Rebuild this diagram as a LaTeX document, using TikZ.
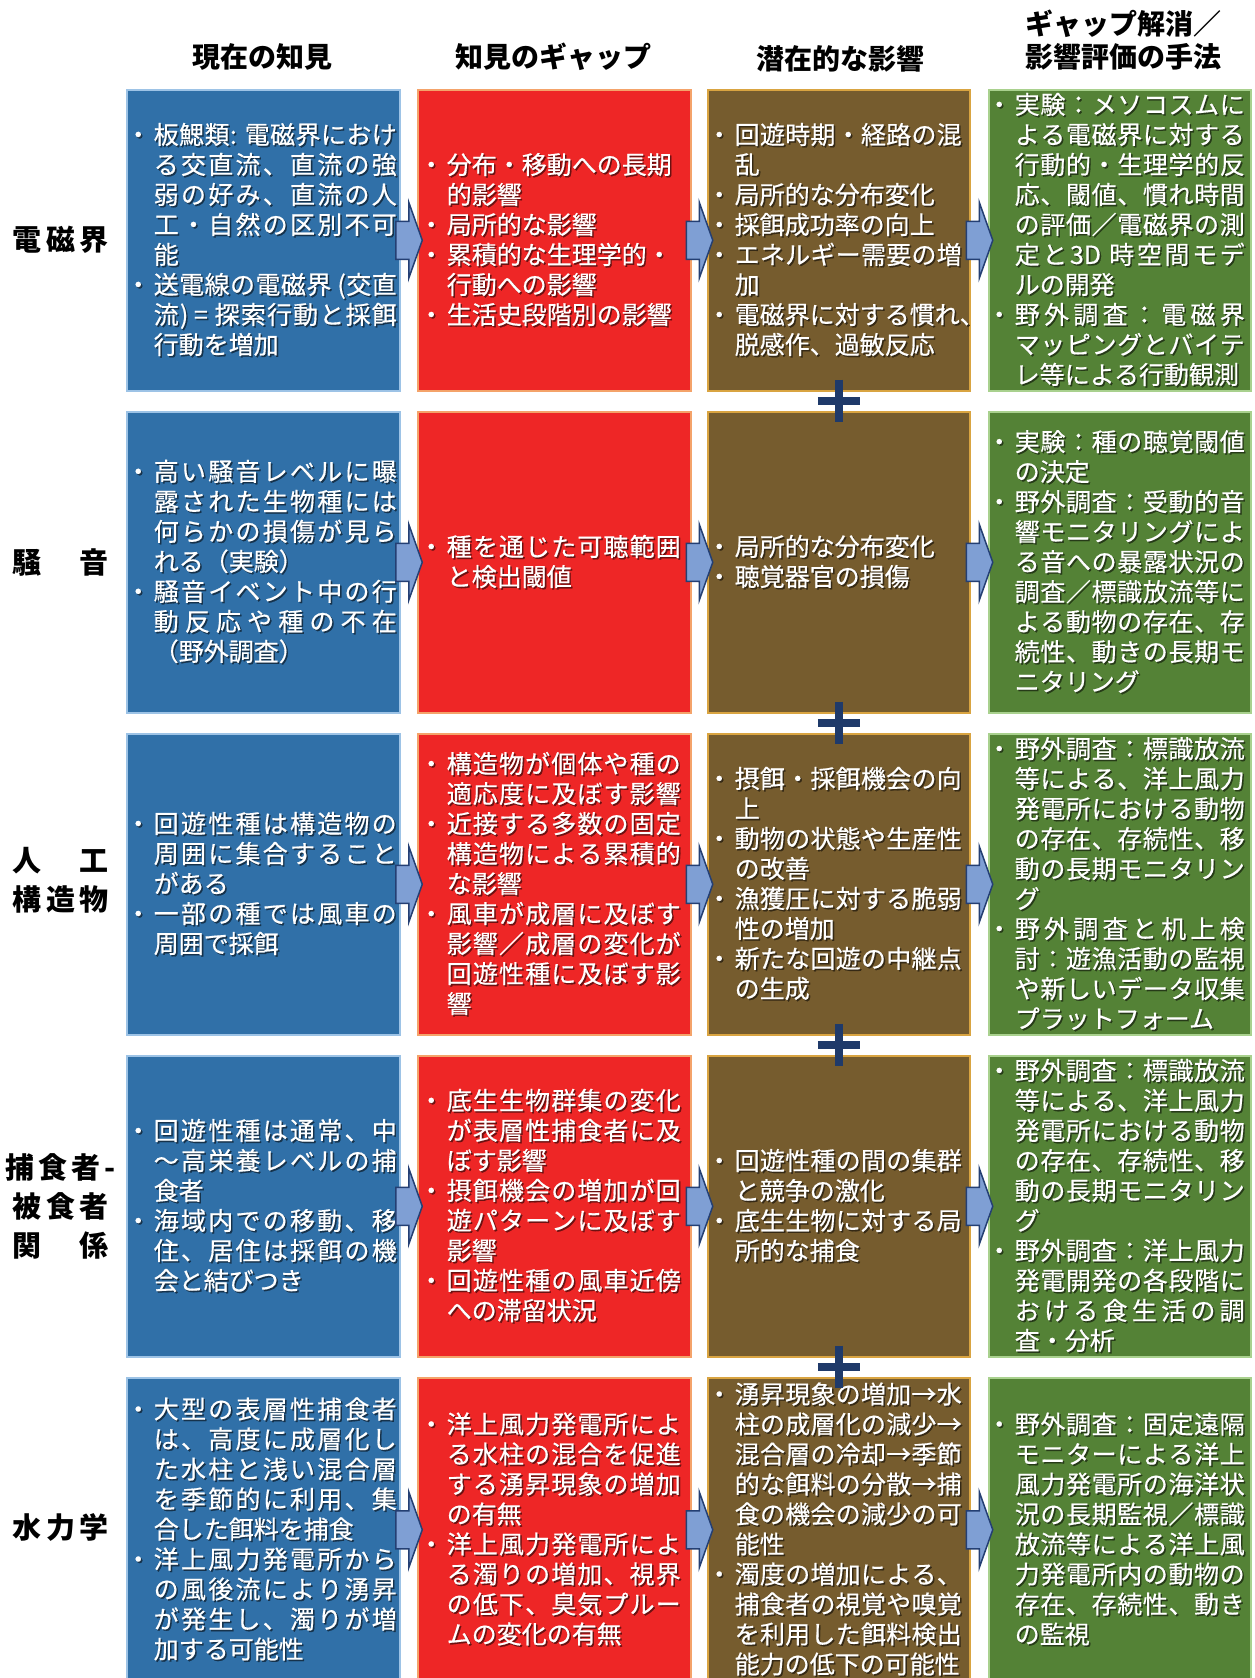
\documentclass[tikz,border=0pt]{standalone}
\usepackage{fontspec}
\setmainfont{Noto Sans CJK JP}
\newfontfamily\boxfont[FakeBold=0.5]{Noto Sans CJK JP}
\usetikzlibrary{calc}
\definecolor{cblue}{HTML}{3070A8}
\definecolor{cblueb}{HTML}{9DC3E6}
\definecolor{cred}{HTML}{EE2626}
\definecolor{credb}{HTML}{F4A36A}
\definecolor{cbrown}{HTML}{765C2E}
\definecolor{cbrownb}{HTML}{D9A441}
\definecolor{cgreen}{HTML}{548236}
\definecolor{cgreenb}{HTML}{A9D18E}
\definecolor{carrow}{HTML}{7F9FD4}
\definecolor{carrowb}{HTML}{243F73}
\definecolor{cnavy}{HTML}{1F3A6A}
\newdimen\lw \newdimen\lp \newdimen\bw \newdimen\shoff \shoff=1.5pt
\def\sprA#1{#1\sprB}
\def\sprB#1{\ifx#1\relax\else\hfil#1\expandafter\sprB\fi}
\def\bul{\llap{・\kern3pt}}
\newcommand\TX[1]{\hbox to\bw{\vbox{\lineskiplimit=-20pt #1}\hss}}
\newcommand\JL[1]{\moveright\lp\hbox to\lw{\rlap{\kern\shoff\lower\shoff\hbox to\lw{\color{shd}\sprA#1\relax}}\sprA#1\relax}}
\newcommand\BJ[1]{\moveright\lp\hbox to\lw{\rlap{\kern\shoff\lower\shoff\hbox to\lw{\color{shd}\bul\sprA#1\relax}}\bul\sprA#1\relax}}
\newcommand\NL[1]{\moveright\lp\hbox{\rlap{\kern\shoff\lower\shoff\hbox{\color{shd}#1}}#1}}
\newcommand\BN[1]{\moveright\lp\hbox{\rlap{\kern\shoff\lower\shoff\hbox{\color{shd}\bul#1}}\bul#1}}
\newcommand\LB[2]{\hbox to120pt{\hss\hbox to#1{\sprA#2\relax}\hss}}
\newcommand\LV[1]{\vbox{\lineskiplimit=-20pt #1}}
\tikzset{
  box/.style={draw, line width=1.5pt, inner sep=0pt, minimum height=301pt, text=white,
    font=\boxfont\fontsize{25}{30}\selectfont, anchor=north west},
  knbox/.style={box, fill=cblue, draw=cblueb, minimum width=273pt,
    execute at begin node={\bw=273pt\lw=243pt\lp=27pt\colorlet{shd}{cblue!45!black}}},
  gpbox/.style={box, fill=cred, draw=credb, minimum width=273pt,
    execute at begin node={\bw=273pt\lw=234pt\lp=29pt\colorlet{shd}{cred!45!black}}},
  imbox/.style={box, fill=cbrown, draw=cbrownb, minimum width=262pt,
    execute at begin node={\bw=262pt\lw=227pt\lp=27pt\colorlet{shd}{cbrown!45!black}}},
  mebox/.style={box, fill=cgreen, draw=cgreenb, minimum width=262pt,
    execute at begin node={\bw=262pt\lw=230pt\lp=26pt\colorlet{shd}{cgreen!45!black}}},
  hdr/.style={font=\bfseries\fontsize{28}{33}\selectfont, align=center, inner sep=0pt, text=black},
  lab/.style={font=\bfseries\fontsize{29}{39}\selectfont, inner sep=0pt, text=black},
  arrowsty/.style={fill=carrow, draw=carrowb, line width=1.5pt, line join=miter},
  barrow/.pic={\draw[arrowsty] (-13,-19) -- (0,-19) -- (0,-38) -- (13.5,0) -- (0,38) -- (0,19) -- (-13,19) -- cycle;},
  plusbar/.style={draw=cnavy, line width=8pt}
}
\begin{document}
\begin{tikzpicture}[x=1pt,y=-1pt]
\useasboundingbox[fill=white] (0,0) rectangle (1255,1678);
% headers
\node[hdr] (h1) at (262,57) {現在の知見};
\node[hdr] (h2) at (553,57) {知見のギャップ};
\node[hdr] (h3) at (840,59) {潜在的な影響};
\node[hdr] (h4) at (1123,40) {ギャップ解消／\\影響評価の手法};
% row labels
\node[lab] (l1) at (61,239.5) {\LV{\LB{96pt}{電磁界}}};
\node[lab] (l2) at (61,563) {\LV{\LB{96pt}{騒音}}};
\node[lab] (l3) at (61,880) {\LV{\LB{96pt}{人工}\LB{96pt}{構造物}}};
\node[lab] (l4) at (61,1206) {\LV{\LB{110pt}{捕食者-}\LB{96pt}{被食者}\LB{96pt}{関係}}};
\node[lab] (l5) at (61,1527.5) {\LV{\LB{96pt}{水力学}}};
% row 1
\node[knbox] (kn1) at (126,89) {\TX{\BJ{板鰓類{: }電磁界におけ}\JL{る交直流、直流の強}\JL{弱の好み、直流の人}\JL{工・自然の区別不可}\NL{能}\BJ{送電線の電磁界{ (}交直}\JL{流{) = }探索行動と採餌}\NL{行動を増加}}};
\node[gpbox] (gp1) at (417,89) {\lw=225pt\TX{\BJ{分布・移動への長期}\NL{的影響}\BN{局所的な影響}\BJ{累積的な生理学的・}\NL{行動への影響}\BN{生活史段階別の影響}}};
\node[imbox] (im1) at (707,89) {\TX{\BJ{回遊時期・経路の混}\NL{乱}\BN{局所的な分布変化}\BN{採餌成功率の向上}\BJ{エネルギー需要の増}\NL{加}\BJ{電磁界に対する慣れ、}\NL{脱感作、過敏反応}}};
\node[mebox] (me1) at (988,89) {\TX{\BJ{実験：メソコスムに}\JL{よる電磁界に対する}\JL{行動的・生理学的反}\JL{応、閾値、慣れ時間}\JL{の評価／電磁界の測}\JL{定と{3D }時空間モデ}\NL{ルの開発}\BJ{野外調査：電磁界}\JL{マッピングとバイテ}\NL{レ等による行動観測}}};
% row 2
\node[knbox] (kn2) at (126,411) {\TX{\BJ{高い騒音レベルに曝}\JL{露された生物種には}\JL{何らかの損傷が見ら}\NL{れる（実験）}\BJ{騒音イベント中の行}\JL{動反応や種の不在}\NL{（野外調査）}}};
\node[gpbox] (gp2) at (417,411) {\TX{\BJ{種を通じた可聴範囲}\NL{と検出閾値}}};
\node[imbox] (im2) at (707,411) {\TX{\BN{局所的な分布変化}\BN{聴覚器官の損傷}}};
\node[mebox] (me2) at (988,411) {\TX{\BJ{実験：種の聴覚閾値}\NL{の決定}\BJ{野外調査：受動的音}\JL{響モニタリングによ}\JL{る音への暴露状況の}\JL{調査／標識放流等に}\JL{よる動物の存在、存}\JL{続性、動きの長期モ}\NL{ニタリング}}};
% row 3
\node[knbox] (kn3) at (126,733) {\TX{\BJ{回遊性種は構造物の}\JL{周囲に集合すること}\NL{がある}\BJ{一部の種では風車の}\NL{周囲で採餌}}};
\node[gpbox] (gp3) at (417,733) {\TX{\BJ{構造物が個体や種の}\JL{適応度に及ぼす影響}\BJ{近接する多数の固定}\JL{構造物による累積的}\NL{な影響}\BJ{風車が成層に及ぼす}\JL{影響／成層の変化が}\JL{回遊性種に及ぼす影}\NL{響}}};
\node[imbox] (im3) at (707,733) {\TX{\BJ{摂餌・採餌機会の向}\NL{上}\BJ{動物の状態や生産性}\NL{の改善}\BJ{漁獲圧に対する脆弱}\NL{性の増加}\BJ{新たな回遊の中継点}\NL{の生成}}};
\node[mebox] (me3) at (988,733) {\TX{\BJ{野外調査：標識放流}\JL{等による、洋上風力}\JL{発電所における動物}\JL{の存在、存続性、移}\JL{動の長期モニタリン}\NL{グ}\BJ{野外調査と机上検}\JL{討：遊漁活動の監視}\JL{や新しいデータ収集}\NL{プラットフォーム}}};
% row 4
\node[knbox] (kn4) at (126,1055) {\TX{\BJ{回遊性種は通常、中}\JL{～高栄養レベルの捕}\NL{食者}\BJ{海域内での移動、移}\JL{住、居住は採餌の機}\NL{会と結びつき}}};
\node[gpbox] (gp4) at (417,1055) {\TX{\BJ{底生生物群集の変化}\JL{が表層性捕食者に及}\NL{ぼす影響}\BJ{摂餌機会の増加が回}\JL{遊パターンに及ぼす}\NL{影響}\BJ{回遊性種の風車近傍}\NL{への滞留状況}}};
\node[imbox] (im4) at (707,1055) {\TX{\BJ{回遊性種の間の集群}\NL{と競争の激化}\BJ{底生生物に対する局}\NL{所的な捕食}}};
\node[mebox] (me4) at (988,1055) {\TX{\BJ{野外調査：標識放流}\JL{等による、洋上風力}\JL{発電所における動物}\JL{の存在、存続性、移}\JL{動の長期モニタリン}\NL{グ}\BJ{野外調査：洋上風力}\JL{発電開発の各段階に}\JL{おける食生活の調}\NL{査・分析}}};
% row 5
\node[knbox, minimum height=304pt] (kn5) at (126,1377) {\TX{\BJ{大型の表層性捕食者}\JL{は、高度に成層化し}\JL{た水柱と浅い混合層}\JL{を季節的に利用、集}\NL{合した餌料を捕食}\BJ{洋上風力発電所から}\JL{の風後流により湧昇}\JL{が発生し、濁りが増}\NL{加する可能性}}};
\node[gpbox, minimum height=304pt] (gp5) at (417,1377) {\TX{\BJ{洋上風力発電所によ}\JL{る水柱の混合を促進}\JL{する湧昇現象の増加}\NL{の有無}\BJ{洋上風力発電所によ}\JL{る濁りの増加、視界}\JL{の低下、臭気プルー}\NL{ムの変化の有無}}};
\node[imbox, minimum height=304pt] (im5) at (707,1377) {\TX{\BJ{湧昇現象の増加→水}\JL{柱の成層化の減少→}\JL{混合層の冷却→季節}\JL{的な餌料の分散→捕}\JL{食の機会の減少の可}\NL{能性}\BJ{濁度の増加による、}\JL{捕食者の視覚や嗅覚}\JL{を利用した餌料検出}\NL{能力の低下の可能性}}};
\node[mebox, minimum height=304pt] (me5) at (988,1377) {\TX{\BJ{野外調査：固定遠隔}\JL{モニターによる洋上}\JL{風力発電所の海洋状}\JL{況の長期監視／標識}\JL{放流等による洋上風}\JL{力発電所内の動物の}\JL{存在、存続性、動き}\NL{の監視}}};
% arrows
\foreach \r in {1,...,5}{
  \path let \p1=(kn\r.east), \p2=(gp\r.west), \p3=(kn\r.center) in
    pic at ({(\x1+\x2)/2},\y3) {barrow};
  \path let \p1=(gp\r.east), \p2=(im\r.west), \p3=(kn\r.center) in
    pic at ({(\x1+\x2)/2},\y3) {barrow};
  \path let \p1=(im\r.east), \p2=(me\r.west), \p3=(kn\r.center) in
    pic at ({(\x1+\x2)/2},\y3) {barrow};
}
% plus connectors between impact boxes
\foreach \r/\s in {1/2,2/3,3/4,4/5}{
  \draw[plusbar, shorten <=-12pt, shorten >=-11pt] (im\r.south) -- (im\s.north);
  \draw[plusbar] ($(im\r.south)!0.5!(im\s.north)+(-21,0)$) -- ++(42,0);
}
\end{tikzpicture}
\end{document}
